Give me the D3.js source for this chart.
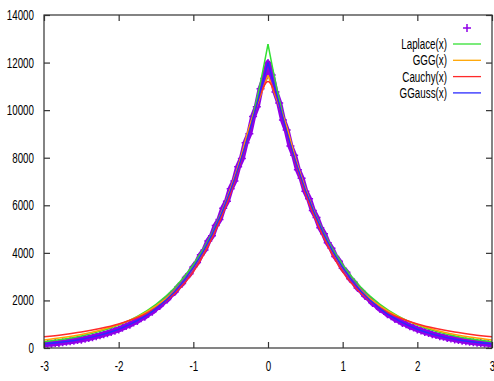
<!DOCTYPE html>
<html>
<head>
<meta charset="utf-8">
<script src="https://cdn.jsdelivr.net/npm/d3@7"></script>
<style>
body{margin:0;background:#fff;}
svg{display:block;}
text{font-family:"Liberation Sans Narrow","Liberation Sans",sans-serif;font-size:14px;fill:#000;}
</style>
</head>
<body>
<svg id="chart" width="494" height="381"></svg>
<script>
// histogram data (x from -3 to 3, step 0.05)
var dataX=d3.range(-60,61).map(function(i){return i/20;});
var dataY=[150,178,182,205,214,240,258,285,301,336,352,392,418,455,497,531,580,622,676,729,
783,848,925,981,1072,1139,1250,1318,1445,1527,1672,1765,1933,2041,2235,2352,2578,2712,2968,3122,
3410,3590,3921,4120,4497,4720,5150,5400,5880,6170,6700,7020,7620,7970,8630,9010,9730,10140,10900,11330,
11980,
11480,10760,10300,9590,9160,8490,8100,7490,7140,6590,6270,5780,5490,5060,4800,4420,4190,3850,3650,
3350,3180,2910,2760,2525,2395,2190,2075,1895,1795,1640,1552,1418,1340,1224,1156,1055,996,910,858,
782,738,672,634,577,544,495,468,424,401,362,340,308,289,262,246,222,210,188,178,152];

// fitted curves
var curveX=[-3,-2.75,-2.5,-2.25,-2,-1.75,-1.5,-1.25,-1,-0.75,-0.5,-0.375,-0.25,-0.125,0,
	0.125,0.25,0.375,0.5,0.75,1,1.25,1.5,1.75,2,2.25,2.5,2.75,3];
var laplace=[266,367,507,699,965,1331,1838,2536,3501,4831,6669,7834,9204,10810,12780,
	10810,9204,7834,6669,4831,3501,2536,1838,1331,965,699,507,367,266];
var ggg=[340,440,570,750,985,1310,1770,2420,3360,4760,6720,7900,9300,10400,11470,
	10400,9300,7900,6720,4760,3360,2420,1770,1310,985,750,570,440,340];
var cauchy=[475,561,671,818,1010,1280,1680,2290,3200,4620,6520,7740,9100,10460,11200,
	10460,9100,7740,6520,4620,3200,2290,1680,1280,1010,818,671,561,475];
var ggauss=[171,252,370,542,791,1148,1657,2376,3382,4769,6646,7797,9098,10527,12000,
	10527,9098,7797,6646,4769,3382,2376,1657,1148,791,542,370,252,171];

var seriesNames=["Laplace(x)","GGG(x)","Cauchy(x)","GGauss(x)"];
var seriesColors=["#33e033","#ffa500","#ff2a2a","#2a2aff"];
var seriesData=[laplace,ggg,cauchy,ggauss];
var xTicks=[-3,-2,-1,0,1,2,3];
var yTicks=[0,2000,4000,6000,8000,10000,12000,14000];

var svg=d3.select("#chart");
var mLeft=44,mRight=492,mTop=15,mBottom=348;
var purple="#9000e8";

var x=d3.scaleLinear().domain([-3,3]).range([mLeft,mRight]);
var y=d3.scaleLinear().domain([0,14000]).range([mBottom,mTop]);

var plot=svg.append("g");
plot.append("clipPath").attr("id","clip").append("rect")
	.attr("x",mLeft).attr("y",mTop).attr("width",mRight-mLeft).attr("height",mBottom-mTop);

// data: dense points make a solid ribbon in the reference
var pts=plot.append("g").attr("clip-path","url(#clip)");
var band=d3.line().x(function(d){return x(d);}).y(function(d,i){return y(dataY[i]);});
pts.append("path").attr("d",band(dataX)).attr("fill","none")
	.attr("stroke",purple).attr("stroke-width",6).attr("stroke-linejoin","round");
dataX.forEach(function(d,i){
	var px=x(d),py=y(dataY[i]),s=4;
	pts.append("path")
		.attr("d","M"+(px-s)+","+py+"H"+(px+s)+"M"+px+","+(py-s)+"V"+(py+s))
		.attr("stroke",purple).attr("stroke-width",1.5).attr("fill","none");
});

// curves; cusped ones drawn as two halves so the point at 0 stays sharp
var line=d3.line().x(function(d){return x(d[0]);}).y(function(d){return y(d[1]);}).curve(d3.curveMonotoneX);
seriesData.forEach(function(vals,k){
	var pairs=curveX.map(function(cx,i){return [cx,vals[i]];});
	var mid=curveX.indexOf(0);
	var parts=seriesNames[k]=="Cauchy(x)"?[pairs]:[pairs.slice(0,mid+1),pairs.slice(mid)];
	parts.forEach(function(part){
		plot.append("path").attr("d",line(part)).attr("fill","none")
			.attr("stroke",seriesColors[k]).attr("stroke-width",1.5).attr("clip-path","url(#clip)");
	});
});

// frame and ticks
var frame="#333";
svg.append("rect").attr("x",mLeft).attr("y",mTop).attr("width",mRight-mLeft).attr("height",mBottom-mTop)
	.attr("fill","none").attr("stroke",frame).attr("stroke-width",1.2);

var fmt=function(d){return String(d);};
var xAxis=d3.axisBottom(x).tickValues(xTicks).tickSize(-6).tickPadding(10).tickFormat(fmt);
var gx=svg.append("g").attr("transform","translate(0,"+mBottom+")").call(xAxis);
var gxTop=svg.append("g").attr("transform","translate(0,"+mTop+")").call(d3.axisTop(x).tickValues(xTicks).tickSize(-6).tickFormat(""));
var yAxis=d3.axisLeft(y).tickValues(yTicks).tickSize(-6).tickPadding(10).tickFormat(fmt);
var gy=svg.append("g").attr("transform","translate("+mLeft+",0)").call(yAxis);
var gyR=svg.append("g").attr("transform","translate("+mRight+",0)").call(d3.axisRight(y).tickValues(yTicks).tickSize(-6).tickFormat(""));
[gx,gxTop,gy,gyR].forEach(function(g){
	g.select(".domain").remove();
	g.selectAll(".tick line").attr("stroke",frame).attr("stroke-width",1.2);
	g.selectAll("text").attr("font-family",null).attr("font-size",null);
});
gx.selectAll("text").attr("dy","0.9em");

// legend
var lg=svg.append("g");
lg.append("path").attr("d","M463,28H471M467,24V32").attr("stroke",purple).attr("stroke-width",1.5);
seriesNames.forEach(function(n,k){
	var ly=44+k*16.3;
	lg.append("text").attr("x",447).attr("y",ly).attr("dy","0.35em").attr("text-anchor","end").text(n);
	lg.append("line").attr("x1",453).attr("x2",481).attr("y1",ly).attr("y2",ly)
		.attr("stroke",seriesColors[k]).attr("stroke-width",1.3);
});

// the reference uses a narrow face: squeeze every label
svg.selectAll("text").each(function(){
	var w=this.getComputedTextLength();
	if(w>0) d3.select(this).attr("textLength",w*0.7).attr("lengthAdjust","spacingAndGlyphs");
});
</script>
</body>
</html>
